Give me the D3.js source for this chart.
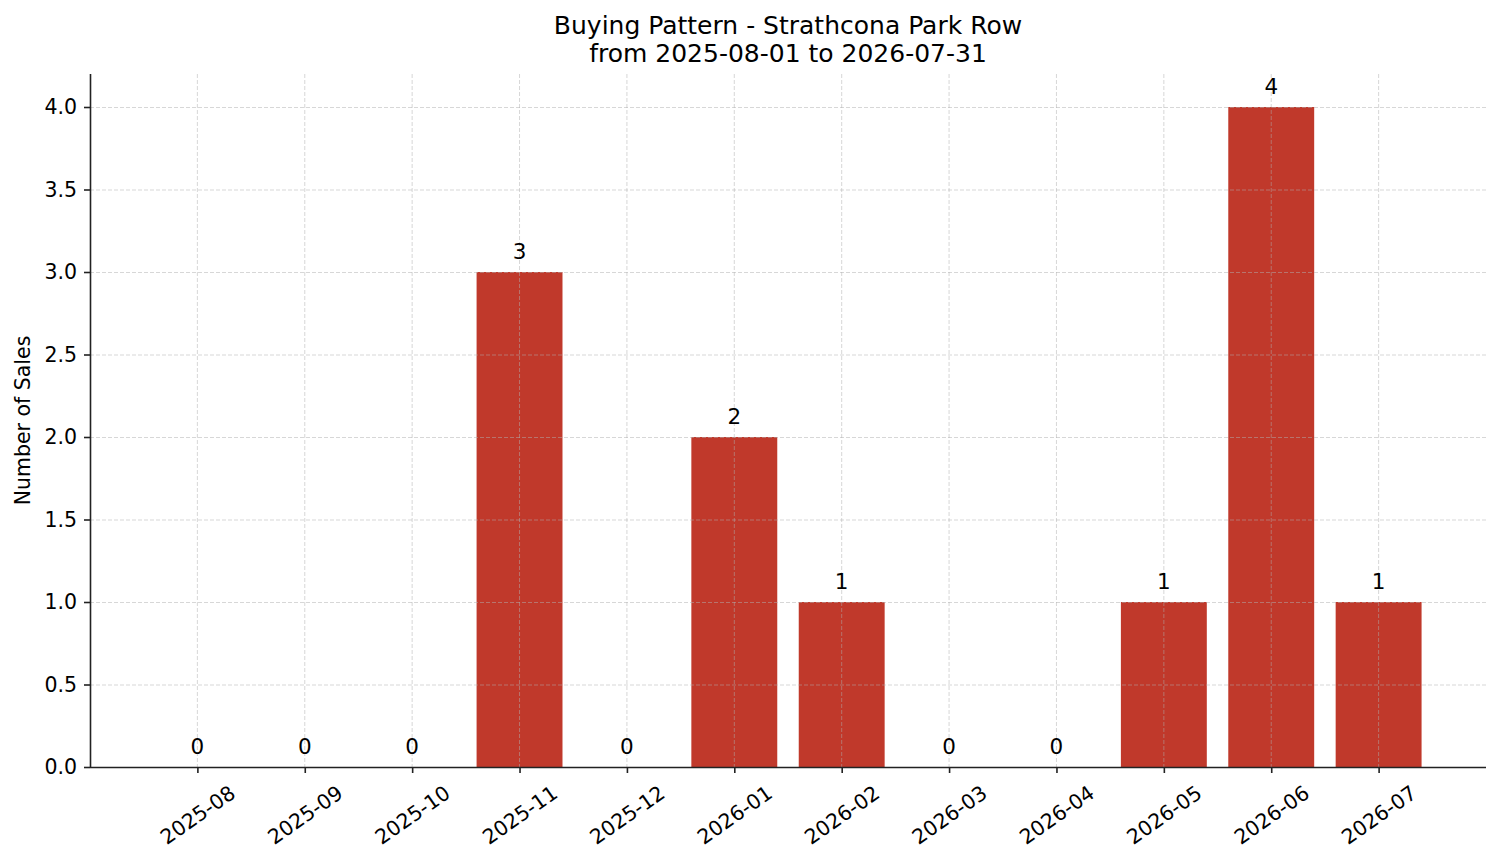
<!DOCTYPE html>
<html>
<head>
<meta charset="utf-8">
<script src="https://cdn.jsdelivr.net/npm/d3@7"></script>
<style>
  body { margin: 0; background: #fff; }
  text { font-family: "DejaVu Sans", sans-serif; fill: #000; }
</style>
</head>
<body>
<div id="chart"></div>
<script>
// Monthly sales counts
const months = ['2025-08', '2025-09', '2025-10', '2025-11', '2025-12', '2026-01',
                '2026-02', '2026-03', '2026-04', '2026-05', '2026-06', '2026-07'];
const sales = [0, 0, 0, 3, 0, 2, 1, 0, 0, 1, 4, 1];
const yTicks = [0, 0.5, 1, 1.5, 2, 2.5, 3, 3.5, 4];

const width = 1501, height = 863;
const margin = { top: 74, right: 15, bottom: 96, left: 90 };

const svg = d3.select('#chart').append('svg')
    .attr('width', width)
    .attr('height', height);

// x is an index scale, one unit per month, padded by one unit on the left
const x = d3.scaleLinear()
    .domain([-1, 12])
    .range([margin.left, width - margin.right]);

const y = d3.scaleLinear()
    .domain([0, 4.2])
    .range([height - margin.bottom, margin.top]);

const barWidth = (x(1) - x(0)) * 0.8;

// Bars
svg.append('g')
  .selectAll('rect')
  .data(sales)
  .join('rect')
    .attr('x', (d, i) => x(i) - barWidth / 2)
    .attr('y', d => y(d))
    .attr('width', barWidth)
    .attr('height', d => y(0) - y(d))
    .attr('fill', '#c0392b');

// Grid lines sit on top of the bars, faint
const grid = svg.append('g')
    .attr('stroke', '#b0b0b0')
    .attr('stroke-opacity', 0.5)
    .attr('stroke-width', 1)
    .attr('stroke-dasharray', '4,2');

grid.selectAll('.hgrid')
  .data(yTicks)
  .join('line')
    .attr('class', 'hgrid')
    .attr('x1', margin.left)
    .attr('x2', width - margin.right)
    .attr('y1', d => y(d) + 0.5)
    .attr('y2', d => y(d) + 0.5);

grid.selectAll('.vgrid')
  .data(months)
  .join('line')
    .attr('class', 'vgrid')
    .attr('x1', (d, i) => x(i))
    .attr('x2', (d, i) => x(i))
    .attr('y1', margin.top)
    .attr('y2', y(0));

// Value labels above each bar
svg.append('g')
  .selectAll('text')
  .data(sales)
  .join('text')
    .attr('x', (d, i) => x(i))
    .attr('y', d => y(d) - 13)
    .attr('text-anchor', 'middle')
    .attr('font-size', '21.5px')
    .text(d => d);

// Y axis
const yAxis = svg.append('g')
    .attr('transform', `translate(${margin.left},0)`)
    .call(d3.axisLeft(y).tickValues(yTicks).tickFormat(d3.format('.1f')).tickSize(6).tickPadding(7));
yAxis.select('.domain').attr('stroke', '#222').attr('stroke-width', 1.6)
    .attr('d', `M0.5,${margin.top}V${y(0)}`);
yAxis.selectAll('.tick line').attr('stroke', '#222').attr('stroke-width', 1.6);
yAxis.selectAll('.tick text')
    .attr('font-size', '20.5px')
    .attr('font-family', '"DejaVu Sans", sans-serif')
    .attr('fill', '#000');

// X axis
const xAxis = svg.append('g')
    .attr('transform', `translate(0,${y(0)})`)
    .call(d3.axisBottom(x).tickValues(d3.range(months.length)).tickFormat(i => months[i]).tickSize(6));
xAxis.select('.domain').attr('stroke', '#222').attr('stroke-width', 1.6)
    .attr('d', `M${margin.left},0.5H${width - margin.right}`);
xAxis.selectAll('.tick line').attr('stroke', '#222').attr('stroke-width', 1.6);
xAxis.selectAll('.tick text')
    .attr('font-size', '20.5px')
    .attr('font-family', '"DejaVu Sans", sans-serif')
    .attr('fill', '#000')
    .attr('text-anchor', 'middle')
    .attr('dy', null)
    .attr('y', 0)
    .attr('dominant-baseline', 'central')
    .attr('transform', 'translate(0,48) rotate(-35)');

// Axis label
svg.append('text')
    .attr('transform', `translate(30,${(margin.top + y(0)) / 2}) rotate(-90)`)
    .attr('text-anchor', 'middle')
    .attr('font-size', '20.5px')
    .text('Number of Sales');

// Title
svg.append('text')
    .attr('x', (margin.left + width - margin.right) / 2)
    .attr('y', 34)
    .attr('text-anchor', 'middle')
    .attr('font-size', '25px')
    .text('Buying Pattern - Strathcona Park Row');
svg.append('text')
    .attr('x', (margin.left + width - margin.right) / 2)
    .attr('y', 62)
    .attr('text-anchor', 'middle')
    .attr('font-size', '25px')
    .text('from 2025-08-01 to 2026-07-31');
</script>
</body>
</html>
